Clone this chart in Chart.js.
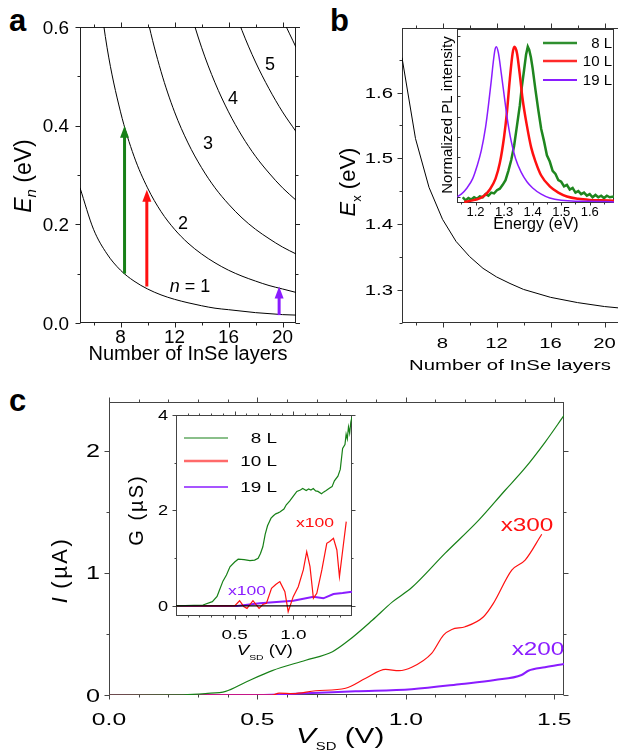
<!DOCTYPE html>
<html lang="en">
<head>
<meta charset="UTF-8">
<title>InSe layers</title>
<script src="https://cdn.jsdelivr.net/npm/chart.js@4.4.1/dist/chart.umd.min.js"></script>
<style>
  html, body { margin: 0; padding: 0; background: #fff; }
  body { position: relative; width: 618px; height: 752px; overflow: hidden; font-family: "Liberation Sans", Arial, sans-serif; }
  canvas { position: absolute; }
  .lab { position: absolute; font-weight: bold; font-size: 31px; line-height: 31px; }
</style>
</head>
<body>
<div class="lab" style="left:9px;top:5px">a</div>
<div class="lab" style="left:330px;top:5px">b</div>
<div class="lab" style="left:9px;top:385px">c</div>

<canvas id="ca" width="300" height="380" style="left:0;top:0;width:300px;height:380px"></canvas>
<canvas id="cb" width="318" height="380" style="left:300px;top:0;width:318px;height:380px"></canvas>
<canvas id="cbi" width="182" height="215" style="left:436px;top:25px;width:182px;height:215px"></canvas>
<canvas id="cc" width="618" height="372" style="left:0;top:380px;width:618px;height:372px"></canvas>
<canvas id="cci" width="250" height="270" style="left:120px;top:405px;width:250px;height:270px"></canvas>

<script>
// ---------- panel a : subband energies E_n vs number of layers
const layersA = [5, 6, 7, 8, 9, 10, 11, 12, 13, 14, 15, 16, 17, 18, 19, 20, 21];
const levelN1 = [0.274, 0.190, 0.140, 0.107, 0.085, 0.069, 0.057, 0.048, 0.041, 0.035, 0.030, 0.027, 0.024, 0.021, 0.019, 0.017, 0.016];
const levelN2 = [null, 0.761, 0.559, 0.428, 0.338, 0.274, 0.226, 0.190, 0.162, 0.140, 0.122, 0.107, 0.095, 0.085, 0.076, 0.069, 0.062];
const levelN3 = [null, null, null, null, 0.762, 0.617, 0.510, 0.428, 0.365, 0.315, 0.274, 0.241, 0.213, 0.190, 0.171, 0.154, 0.140];
const levelN4 = [null, null, null, null, null, null, null, 0.761, 0.649, 0.559, 0.487, 0.428, 0.379, 0.338, 0.304, 0.274, 0.249];
const levelN5 = [null, null, null, null, null, null, null, null, null, null, 0.761, 0.669, 0.593, 0.529, 0.475, 0.428, 0.388];
const levelN6 = [null, null, null, null, null, null, null, null, null, null, null, null, null, null, 0.683, 0.617, 0.559];
const arrowLayer = [8.3, 9.95, 19.75];
const arrowFrom = [0.1, 0.074, 0.016];
const arrowTo = [0.4, 0.27, 0.074];

// ---------- panel b : exciton energy + PL inset
const layersB = [5, 6, 7, 8, 9, 10, 11, 12, 13, 14, 15, 16, 17, 18, 19, 20, 21];
const excitonB = [1.653, 1.530, 1.456, 1.4075, 1.374, 1.351, 1.333, 1.320, 1.310, 1.301, 1.295, 1.289, 1.285, 1.281, 1.278, 1.275, 1.273];

const plE8 = [1.155, 1.165, 1.175, 1.185, 1.195, 1.205, 1.215, 1.225, 1.235, 1.245, 1.255, 1.265, 1.275, 1.285, 1.295, 1.305, 1.315, 1.325, 1.335, 1.345, 1.355, 1.362, 1.37, 1.377, 1.383, 1.388, 1.394, 1.40, 1.41, 1.42, 1.43, 1.44, 1.45, 1.46, 1.47, 1.48, 1.49, 1.50, 1.51, 1.52, 1.53, 1.54, 1.55, 1.56, 1.57, 1.58, 1.59, 1.60, 1.61, 1.62, 1.63, 1.64, 1.65, 1.66, 1.67, 1.685];
const plI8 = [0.03, 0.01, 0.025, 0.015, 0.03, 0.02, 0.035, 0.03, 0.05, 0.04, 0.06, 0.055, 0.075, 0.085, 0.11, 0.14, 0.2, 0.27, 0.36, 0.49, 0.62, 0.74, 0.85, 0.95, 1.0, 0.98, 0.93, 0.86, 0.72, 0.59, 0.47, 0.39, 0.3, 0.26, 0.2, 0.18, 0.14, 0.13, 0.1, 0.11, 0.08, 0.09, 0.06, 0.07, 0.05, 0.06, 0.04, 0.05, 0.03, 0.045, 0.03, 0.04, 0.025, 0.04, 0.03, 0.035];
const plE10 = [1.16, 1.19, 1.21, 1.23, 1.25, 1.27, 1.285, 1.30, 1.31, 1.32, 1.33, 1.336, 1.345, 1.355, 1.365, 1.38, 1.395, 1.41, 1.43, 1.46, 1.49, 1.52, 1.56, 1.60, 1.64, 1.685];
const plI10 = [0.0, 0.01, 0.02, 0.04, 0.08, 0.15, 0.25, 0.42, 0.58, 0.79, 0.96, 1.0, 0.96, 0.82, 0.66, 0.49, 0.35, 0.26, 0.17, 0.10, 0.06, 0.035, 0.02, 0.013, 0.01, 0.008];
const plE19 = [1.136, 1.15, 1.17, 1.19, 1.205, 1.22, 1.235, 1.245, 1.255, 1.262, 1.268, 1.273, 1.28, 1.29, 1.30, 1.31, 1.325, 1.34, 1.36, 1.38, 1.40, 1.43, 1.46, 1.50, 1.55, 1.60, 1.685];
const plI19 = [0.034, 0.05, 0.09, 0.15, 0.23, 0.33, 0.48, 0.62, 0.78, 0.9, 0.98, 1.0, 0.96, 0.83, 0.69, 0.55, 0.39, 0.28, 0.19, 0.13, 0.09, 0.05, 0.025, 0.01, 0.005, 0.005, 0.0];
const legendNames = ['8 L', '10 L', '19 L'];

// ---------- panel c : I-V curves + conductance inset
const vI8 = [0, 0.25, 0.325, 0.393, 0.46, 0.55, 0.663, 0.753, 0.809, 0.887, 0.955, 1.02, 1.132, 1.245, 1.334, 1.402, 1.469, 1.533];
const cur8 = [0, 0.002, 0.012, 0.03, 0.105, 0.2, 0.285, 0.355, 0.45, 0.612, 0.763, 0.88, 1.16, 1.43, 1.675, 1.86, 2.07, 2.29];
const vI10 = [0, 0.55, 0.573, 0.62, 0.696, 0.797, 0.865, 0.932, 0.977, 1.02, 1.087, 1.127, 1.155, 1.2, 1.262, 1.295, 1.357, 1.402, 1.458];
const cur10 = [0, 0, 0.015, 0.012, 0.035, 0.055, 0.137, 0.21, 0.199, 0.227, 0.341, 0.491, 0.537, 0.559, 0.641, 0.75, 1.023, 1.105, 1.317];
const vI19 = [0, 0.5, 0.663, 0.83, 1.02, 1.188, 1.3, 1.39, 1.413, 1.469, 1.533];
const cur19 = [0, 0, 0.014, 0.03, 0.047, 0.09, 0.123, 0.164, 0.199, 0.227, 0.254];

const vG8 = [0, 0.23, 0.31, 0.35, 0.37, 0.40, 0.43, 0.46, 0.50, 0.53, 0.58, 0.63, 0.67, 0.70, 0.72, 0.74, 0.76, 0.78, 0.81, 0.83, 0.85, 0.87, 0.885, 0.92, 0.94, 0.97, 1.0, 1.03, 1.06, 1.08, 1.11, 1.13, 1.15, 1.17, 1.19, 1.21, 1.24, 1.26, 1.28, 1.31, 1.33, 1.35, 1.38, 1.40, 1.42, 1.44, 1.45, 1.46, 1.47, 1.48, 1.49, 1.5];
const cond8 = [0, 0.02, 0.09, 0.2, 0.33, 0.52, 0.65, 0.82, 0.92, 0.98, 0.97, 0.95, 0.96, 1.0, 1.1, 1.24, 1.5, 1.68, 1.84, 1.89, 1.93, 1.95, 1.97, 2.03, 2.12, 2.2, 2.3, 2.4, 2.43, 2.46, 2.42, 2.45, 2.43, 2.46, 2.41, 2.4, 2.35, 2.39, 2.42, 2.47, 2.5, 2.62, 2.72, 2.86, 3.3, 3.38, 3.6, 3.5, 3.75, 3.62, 3.85, 3.96];
const vG10 = [0, 0.5, 0.542, 0.577, 0.605, 0.656, 0.708, 0.74, 0.771, 0.814, 0.85, 0.885, 0.928, 0.956, 0.999, 1.042, 1.085, 1.114, 1.142, 1.171, 1.2, 1.243, 1.285, 1.31, 1.342, 1.371, 1.393, 1.428, 1.451];
const cond10 = [0, 0, 0.11, -0.01, -0.05, 0.11, -0.05, 0.03, 0.056, 0.37, 0.45, 0.51, 0.3, -0.12, 0.195, 0.404, 0.754, 1.137, 0.823, 0.161, 0.266, 0.754, 1.313, 1.35, 1.418, 1.173, 0.614, 1.313, 1.766];
const vG19 = [0, 0.52, 0.714, 0.885, 1.0, 1.171, 1.256, 1.342, 1.42, 1.5];
const cond19 = [0, 0, 0.056, 0.09, 0.11, 0.195, 0.16, 0.251, 0.27, 0.3];
const zeroV = [0, 1.5];
const zeroG = [0, 0];

const GREEN = '#178017', RED = '#ff1010', PURPLE = '#8a1cff';
const FONT = '"Liberation Sans", Arial, sans-serif';

const xy = (xs, ys) => xs.map((x, i) => ({ x: x, y: ys[i] }));
function line(xs, ys, color, w, smooth) {
  return {
    data: xy(xs, ys), borderColor: color, borderWidth: w, pointRadius: 0, fill: false,
    clip: 0, tension: 0, cubicInterpolationMode: smooth ? 'monotone' : 'default'
  };
}

// plain text, with optional horizontal stretch and rotation
function txt(ctx, s, x, y, size, o) {
  o = o || {};
  ctx.save();
  ctx.translate(x, y);
  if (o.rot) ctx.rotate(o.rot);
  ctx.scale(o.sx || 1, 1);
  ctx.font = (o.it ? 'italic ' : '') + size + 'px ' + FONT;
  ctx.fillStyle = o.color || '#000';
  ctx.textAlign = o.align || 'left';
  ctx.textBaseline = 'alphabetic';
  ctx.fillText(s, 0, 0);
  ctx.restore();
}

// several runs of text on one baseline (italic symbols, subscripts)
function runs(ctx, parts, x, y, o) {
  o = o || {};
  ctx.save();
  ctx.translate(x, y);
  if (o.rot) ctx.rotate(o.rot);
  ctx.scale(o.sx || 1, 1);
  const fontOf = p => (p.it ? 'italic ' : '') + p.size + 'px ' + FONT;
  let total = 0;
  for (const p of parts) {
    ctx.font = fontOf(p);
    ctx.letterSpacing = (p.ls || 0) + 'px';
    p.w = ctx.measureText(p.t).width;
    total += p.w;
  }
  let cx = o.align === 'center' ? -total / 2 : 0;
  ctx.fillStyle = o.color || '#000';
  ctx.textAlign = 'left';
  ctx.textBaseline = 'alphabetic';
  for (const p of parts) {
    ctx.font = fontOf(p);
    ctx.letterSpacing = (p.ls || 0) + 'px';
    ctx.fillText(p.t, cx, p.dy || 0);
    cx += p.w;
  }
  ctx.restore();
}

function xLabels(ctx, sc, vals, fmt, y, size, sx) {
  vals.forEach(v => txt(ctx, fmt(v), sc.getPixelForValue(v), y, size, { align: 'center', sx: sx }));
}
function yLabels(ctx, sc, vals, fmt, x, size, sx, dy) {
  vals.forEach(v => txt(ctx, fmt(v), x, sc.getPixelForValue(v) + dy, size, { align: 'right', sx: sx }));
}

function legend(ctx, x0, x1, ys, colors, widths, textX, size, sx) {
  ys.forEach((y, i) => {
    ctx.save();
    ctx.strokeStyle = colors[i];
    ctx.lineWidth = widths[i];
    ctx.beginPath(); ctx.moveTo(x0, y); ctx.lineTo(x1, y); ctx.stroke();
    ctx.restore();
    txt(ctx, legendNames[i], textX, y + 5, size, { align: 'right', sx: sx });
  });
}

function drawFrame(chart, f) {
  const ctx = chart.ctx, a = chart.chartArea, sx = chart.scales.x, sy = chart.scales.y;
  const L = Math.round(a.left) + 0.5, R = Math.round(a.right) - 0.5;
  const T = Math.round(a.top) + 0.5, B = Math.round(a.bottom) - 0.5;
  ctx.save();
  ctx.strokeStyle = f.color;
  ctx.lineWidth = 1;
  ctx.beginPath();
  const seg = (x1, y1, x2, y2) => { ctx.moveTo(x1, y1); ctx.lineTo(x2, y2); };
  if (f.box.includes('left')) seg(L, T - 0.5, L, B + 0.5);
  if (f.box.includes('right')) seg(R, T - 0.5, R, B + 0.5);
  if (f.box.includes('top')) seg(L - 0.5, T, R + 0.5, T);
  if (f.box.includes('bottom')) seg(L - 0.5, B, R + 0.5, B);
  for (const side of Object.keys(f.ticks)) {
    const dir = f.ticks[side];
    const horiz = side === 'top' || side === 'bottom';
    const sc = horiz ? sx : sy, spec = horiz ? f.x : f.y;
    [[spec.major, f.maj], [spec.minor, f.min]].forEach(([vals, len]) => {
      vals.forEach(v => {
        const p = Math.round(sc.getPixelForValue(v)) + 0.5;
        if (side === 'bottom') seg(p, B, p, B + dir * len);
        if (side === 'top') seg(p, T, p, T - dir * len);
        if (side === 'left') seg(L, p, L - dir * len, p);
        if (side === 'right') seg(R, p, R + dir * len, p);
      });
    });
  }
  ctx.stroke();
  ctx.restore();
}

// ---------- per-panel decorations
function drawA(chart, ctx, xs, ys) {
  yLabels(ctx, ys, [0, 0.2, 0.4, 0.6], v => v.toFixed(1), 69, 18, 1.05, 6.5);
  xLabels(ctx, xs, [8, 12, 16, 20], v => String(v), 343, 18, 1.05);
  txt(ctx, 'Number of InSe layers', 188, 360, 20, { align: 'center' });
  runs(ctx, [{ t: 'E', it: true, size: 23 }, { t: 'n', it: true, size: 15, dy: 5 }, { t: ' (eV)', size: 23 }],
       31, 176, { rot: -Math.PI / 2, align: 'center' });

  const levels = [['5', 19.07, 0.527], ['4', 16.33, 0.458], ['3', 14.48, 0.365], ['2', 12.63, 0.203]];
  levels.forEach(([t, n, e]) => txt(ctx, t, xs.getPixelForValue(n), ys.getPixelForValue(e) + 6.5, 18, { align: 'center' }));
  runs(ctx, [{ t: 'n', it: true, size: 18 }, { t: ' = 1', size: 18 }],
       xs.getPixelForValue(13.15), ys.getPixelForValue(0.077) + 6.5, { align: 'center' });

  const cols = [GREEN, RED, PURPLE];
  arrowLayer.forEach((n, i) => {
    const x = xs.getPixelForValue(n), y0 = ys.getPixelForValue(arrowFrom[i]), y1 = ys.getPixelForValue(arrowTo[i]);
    ctx.save();
    ctx.strokeStyle = cols[i]; ctx.fillStyle = cols[i]; ctx.lineWidth = 3;
    ctx.beginPath(); ctx.moveTo(x, y0); ctx.lineTo(x, y1 + 10); ctx.stroke();
    ctx.beginPath(); ctx.moveTo(x, y1); ctx.lineTo(x - 4.5, y1 + 12); ctx.lineTo(x + 4.5, y1 + 12); ctx.closePath(); ctx.fill();
    ctx.restore();
  });
}

function drawB(chart, ctx, xs, ys) {
  yLabels(ctx, ys, [1.3, 1.4, 1.5, 1.6], v => v.toFixed(1), 93, 14, 1.45, 5);
  xLabels(ctx, xs, [8, 12, 16, 20], v => String(v), 348, 14, 1.45);
  txt(ctx, 'Number of InSe layers', 210, 370, 14, { align: 'center', sx: 1.45 });
  runs(ctx, [{ t: 'E', it: true, size: 22 }, { t: 'x', size: 13, dy: 6 }, { t: ' (eV)', size: 22 }],
       55, 182, { rot: -Math.PI / 2, align: 'center' });
}

function drawBi(chart, ctx, xs, ys) {
  xLabels(ctx, xs, [1.2, 1.3, 1.4, 1.5, 1.6], v => v.toFixed(1), 191, 13, 1);
  txt(ctx, 'Energy (eV)', 100, 204, 16, { align: 'center' });
  txt(ctx, 'Normalized PL intensity', 16, 90, 15, { align: 'center', rot: -Math.PI / 2 });
  legend(ctx, 107, 141, [18, 36, 55], ['#2f8f2f', '#ff2a2a', PURPLE], [2.5, 2.5, 2], 176, 15, 1);
}

function drawC(chart, ctx, xs, ys) {
  yLabels(ctx, ys, [0, 1, 2], v => String(v), 100, 18, 1.4, 6.5);
  xLabels(ctx, xs, [0, 0.5, 1, 1.5], v => v.toFixed(1), 345, 17, 1.45);
  runs(ctx, [{ t: 'V', it: true, size: 22 }, { t: 'SD', size: 11, dy: 7 }, { t: ' (V)', size: 22 }], 296, 363, { sx: 1.35 });
  runs(ctx, [{ t: 'I', it: true, size: 22 }, { t: ' (µA)', size: 22, ls: 2.5 }], 67, 190, { rot: -Math.PI / 2, align: 'center' });
  txt(ctx, 'x300', 527, 151, 19, { align: 'center', sx: 1.28, color: RED });
  txt(ctx, 'x200', 538, 275, 19, { align: 'center', sx: 1.28, color: PURPLE });
}

function drawCi(chart, ctx, xs, ys) {
  yLabels(ctx, ys, [0, 2, 4], v => String(v), 48, 14, 1.3, 5);
  xLabels(ctx, xs, [0.5, 1.0], v => v.toFixed(1), 234, 13.5, 1.4);
  runs(ctx, [{ t: 'V', it: true, size: 14 }, { t: 'SD', size: 8, dy: 5 }, { t: ' (V)', size: 14 }], 117, 250, { sx: 1.3 });
  runs(ctx, [{ t: 'G (µS)', size: 20, ls: 2 }], 23, 105, { rot: -Math.PI / 2, align: 'center' });
  legend(ctx, 64, 108, [33, 56, 82], [GREEN, '#ff6a6a', PURPLE], [1.2, 2.5, 1.5], 157, 14, 1.35);
  txt(ctx, 'x100', 195, 122, 13, { align: 'center', sx: 1.35, color: RED });
  txt(ctx, 'x100', 127, 190, 13, { align: 'center', sx: 1.35, color: PURPLE });
}

const frames = {
  ca: { color: '#222', box: ['left', 'right', 'top', 'bottom'], ticks: { bottom: 1, top: 1, left: 1, right: 1 }, maj: 5, min: 3,
        x: { major: [8, 12, 16, 20], minor: [6, 10, 14, 18] }, y: { major: [0, 0.2, 0.4, 0.6], minor: [0.1, 0.3, 0.5] }, draw: drawA },
  cb: { color: '#333', box: ['left', 'top', 'bottom'], ticks: { bottom: 1, top: 1, left: 1 }, maj: 5, min: 3,
        x: { major: [8, 12, 16, 20], minor: [6, 10, 14, 18] }, y: { major: [1.3, 1.4, 1.5, 1.6], minor: [1.25, 1.35, 1.45, 1.55, 1.65] }, draw: drawB },
  cbi: { color: '#333', bg: '#fff', box: ['left', 'right', 'top', 'bottom'], ticks: { bottom: 1, left: -1 }, maj: 3, min: 2,
        x: { major: [1.2, 1.3, 1.4, 1.5, 1.6], minor: [1.15, 1.25, 1.35, 1.45, 1.55, 1.65] },
        y: { major: [0.03, 0.16, 0.29, 0.42, 0.55, 0.68, 0.81, 0.94, 1.07], minor: [] }, draw: drawBi },
  cc: { color: '#444', box: ['left', 'right', 'top', 'bottom'], ticks: { bottom: 1, top: 1, left: 1, right: 1 }, maj: 5, min: 3,
        x: { major: [0, 0.5, 1, 1.5], minor: [0.1, 0.2, 0.3, 0.4, 0.6, 0.7, 0.8, 0.9, 1.1, 1.2, 1.3, 1.4] },
        y: { major: [0, 1, 2], minor: [0.5, 1.5] }, draw: drawC },
  cci: { color: '#444', bg: '#fff', box: ['left', 'right', 'top', 'bottom'], ticks: { bottom: 1, top: 1, left: 1, right: 1 }, maj: 4, min: 2,
        x: { major: [0.5, 1.0], minor: [0.1, 0.2, 0.3, 0.4, 0.6, 0.7, 0.8, 0.9, 1.1, 1.2, 1.3, 1.4] },
        y: { major: [0, 2, 4], minor: [1, 3] }, draw: drawCi }
};

const framePlugin = {
  id: 'frame',
  beforeDatasetsDraw(chart) {
    const f = frames[chart.canvas.id], ctx = chart.ctx, a = chart.chartArea;
    if (f.bg) {
      ctx.save(); ctx.fillStyle = f.bg;
      ctx.fillRect(a.left, a.top, a.right - a.left, a.bottom - a.top);
      ctx.restore();
    }
    drawFrame(chart, f);
  },
  afterDatasetsDraw(chart) {
    const f = frames[chart.canvas.id];
    f.draw(chart, chart.ctx, chart.scales.x, chart.scales.y);
  }
};

function panel(id, datasets, xr, yr, pad) {
  const axis = (r, isX) => ({
    type: 'linear', min: r[0], max: r[1],
    ticks: { display: false }, grid: { display: false }, border: { display: false },
    afterFit: s => { if (isX) s.height = 0; else s.width = 0; }
  });
  return new Chart(document.getElementById(id), {
    type: 'line',
    data: { datasets: datasets },
    options: {
      responsive: false, animation: false, events: [],
      layout: { padding: pad },
      plugins: { legend: { display: false }, tooltip: { enabled: false } },
      scales: { x: axis(xr, true), y: axis(yr, false) }
    },
    plugins: [framePlugin]
  });
}

panel('ca', [
  line(layersA, levelN1, '#000', 1, true),
  line(layersA, levelN2, '#000', 1, true),
  line(layersA, levelN3, '#000', 1, true),
  line(layersA, levelN4, '#000', 1, true),
  line(layersA, levelN5, '#000', 1, true),
  line(layersA, levelN6, '#000', 1, true)
], [5, 21], [0, 0.6], { left: 80, right: 4, top: 27, bottom: 57 });

panel('cb', [
  line(layersB, excitonB, '#000', 1, false)
], [5, 21], [1.25, 1.698], { left: 102, right: 0, top: 28, bottom: 57 });

panel('cbi', [
  line(plE19, plI19, PURPLE, 1.5, true),
  line(plE10, plI10, RED, 2.5, true),
  line(plE8, plI8, '#1f861f', 2.5, false)
], [1.135, 1.685], [-0.007, 1.114], { left: 21, right: 4, top: 4, bottom: 37 });

panel('cc', [
  line(vI8, cur8, GREEN, 1.2, true),
  line(vI10, cur10, RED, 1.2, true),
  line(vI19, cur19, PURPLE, 2, true)
], [0, 1.533], [0, 2.4], { left: 109, right: 54, top: 22, bottom: 57 });

panel('cci', [
  line(zeroV, zeroG, '#000', 1.2, false),
  line(vG8, cond8, GREEN, 1.2, false),
  line(vG10, cond10, RED, 1.2, false),
  line(vG19, cond19, PURPLE, 2, false)
], [0, 1.5], [-0.21, 4], { left: 56, right: 18, top: 10, bottom: 59 });
</script>
</body>
</html>
